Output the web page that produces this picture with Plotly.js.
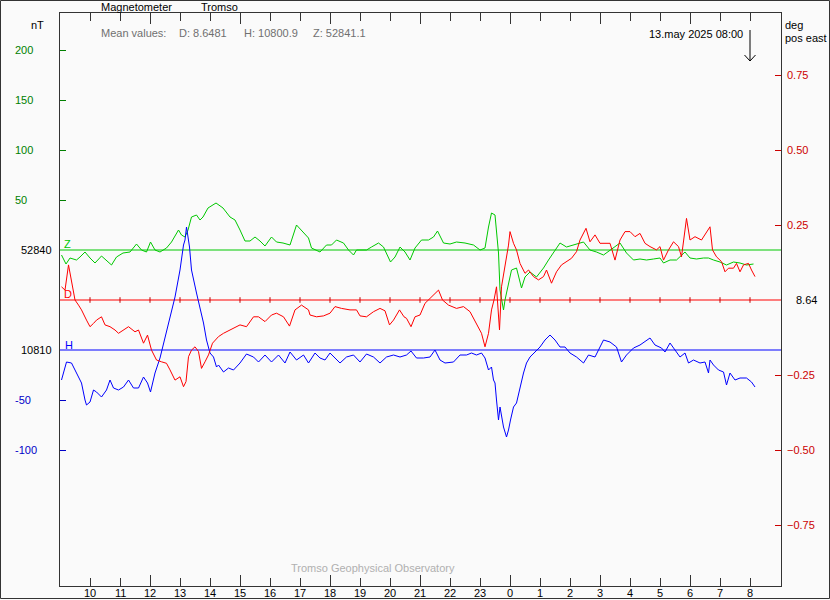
<!DOCTYPE html>
<html>
<head>
<meta charset="utf-8">
<script src="https://cdn.plot.ly/plotly-3.0.1.min.js"></script>
<style>html,body{margin:0;padding:0;background:#fafafa;}#chart{width:830px;height:600px;}</style>
</head>
<body>
<div id="chart"></div>
<script>
// time axis: minutes since 12 May 2025 09:00 UT
const hourLabels = ["10","11","12","13","14","15","16","17","18","19","20","21","22","23","0","1","2","3","4","5","6","7","8"];
const longTickLabels = ["12","15","18","21","0","3","6"];

// Z component (nT)
const zMinutes = [3,12,20,33,40,50,60,70,83,93,103,113,126,140,153,163,173,181,190,200,213,223,237,243,250,256,263,273,280,286,296,312,326,340,350,360,370,380,390,400,410,423,433,446,460,473,487,497,503,520,533,543,553,567,577,587,593,613,623,637,647,653,661,670,680,690,700,710,723,737,747,755,767,780,793,810,827,840,850,857,863,870,873,877,880,887,890,897,903,913,923,930,940,953,967,977,990,1000,1013,1027,1040,1047,1060,1073,1087,1100,1120,1133,1147,1160,1173,1187,1200,1207,1220,1233,1250,1260,1273,1287,1297,1307,1320,1333,1347,1360,1373,1387];
const zValues = [52835,52826,52832,52830,52833,52838,52832,52827,52834,52829,
52825,52833,52837,52838,52846,52840,52838,52848,52840,52838,
52842,52848,52860,52855,52853,52860,52873,52875,52870,52873,
52882,52887,52882,52873,52870,52860,52849,52849,52853,52849,
52844,52853,52848,52847,52845,52865,52858,52852,52842,52838,
52845,52845,52850,52847,52840,52835,52840,52840,52843,52847,
52843,52837,52828,52833,52843,52838,52830,52842,52850,52850,
52853,52859,52847,52846,52848,52847,52845,52840,52842,52863,
52877,52875,52857,52837,52800,52780,52790,52807,52820,52822,
52802,52813,52818,52813,52822,52830,52840,52847,52843,52845,
52847,52848,52840,52838,52835,52840,52847,52837,52830,52831,
52830,52831,52832,52827,52830,52830,52838,52832,52831,52832,
52832,52830,52828,52825,52828,52827,52825,52826];

// D component (degrees, positive east)
const dMinutes = [3,10,17,23,30,37,43,53,60,67,73,83,90,100,110,117,127,137,150,157,167,175,183,193,203,213,220,230,240,247,252,257,263,270,277,283,290,297,305,317,327,340,350,360,373,387,397,410,423,433,447,459,470,483,497,500,513,527,540,550,563,580,593,600,613,627,640,650,659,667,679,688,693,702,710,720,730,740,750,757,765,777,793,807,820,827,837,843,850,857,863,868,873,879,883,890,897,900,907,913,920,930,937,947,957,967,973,983,993,1003,1013,1023,1033,1040,1052,1060,1070,1080,1090,1100,1110,1120,1130,1140,1150,1160,1170,1180,1193,1200,1207,1217,1227,1237,1243,1250,1253,1260,1270,1283,1293,1300,1305,1313,1323,1330,1337,1347,1353,1360,1367,1377,1383,1390];
const dValues = [8.684,8.673,8.757,8.707,8.640,8.623,8.607,8.573,8.551,8.562,
8.573,8.584,8.557,8.551,8.540,8.529,8.540,8.551,8.534,8.540,
8.496,8.523,8.473,8.440,8.434,8.429,8.407,8.373,8.384,8.351,
8.368,8.451,8.473,8.484,8.468,8.412,8.434,8.457,8.496,8.518,
8.529,8.540,8.551,8.557,8.551,8.584,8.584,8.568,8.590,8.596,
8.584,8.553,8.607,8.623,8.607,8.590,8.584,8.587,8.596,8.618,
8.612,8.607,8.607,8.587,8.584,8.601,8.612,8.604,8.557,8.573,
8.607,8.584,8.579,8.551,8.584,8.590,8.629,8.646,8.662,8.673,
8.640,8.623,8.612,8.618,8.601,8.579,8.551,8.529,8.484,8.529,
8.607,8.640,8.684,8.540,8.684,8.751,8.823,8.868,8.829,8.807,
8.762,8.729,8.740,8.718,8.707,8.718,8.740,8.696,8.734,8.757,
8.768,8.779,8.801,8.840,8.879,8.834,8.857,8.829,8.829,8.829,
8.773,8.840,8.868,8.868,8.851,8.862,8.829,8.818,8.807,8.818,
8.773,8.807,8.834,8.818,8.784,8.884,8.912,8.840,8.851,8.840,
8.868,8.884,8.807,8.784,8.768,8.734,8.746,8.746,8.762,8.734,
8.757,8.762,8.740,8.718];

// H component (nT)
const hMinutes = [3,8,13,23,30,37,43,50,53,60,67,73,83,93,100,107,117,127,137,147,157,167,175,181,190,200,210,220,230,240,247,250,253,259,263,273,280,287,293,300,307,313,317,327,337,347,360,373,387,397,410,423,437,450,460,473,487,497,510,520,530,540,550,560,573,587,600,613,627,640,653,667,680,693,702,713,727,740,750,760,770,787,800,813,823,833,843,850,857,863,867,870,873,877,880,887,893,897,901,907,913,920,927,933,940,950,960,970,980,990,1000,1010,1020,1033,1047,1057,1070,1077,1087,1100,1113,1123,1133,1147,1160,1180,1190,1203,1210,1220,1230,1240,1250,1257,1267,1280,1290,1297,1300,1307,1317,1327,1333,1340,1350,1360,1373,1383,1390];
const hValues = [10780,10790,10798,10797,10790,10782,10777,10760,10755,10758,
10770,10768,10763,10770,10780,10772,10770,10773,10780,10772,
10772,10783,10777,10768,10787,10802,10823,10843,10863,10890,
10915,10920,10933,10913,10890,10867,10853,10837,10820,10807,
10803,10793,10795,10788,10792,10790,10797,10806,10803,10798,
10805,10798,10805,10797,10808,10800,10805,10797,10807,10802,
10800,10807,10802,10797,10803,10805,10798,10806,10803,10797,
10803,10805,10803,10805,10809,10802,10802,10803,10810,10800,
10797,10798,10805,10805,10807,10805,10807,10802,10790,10793,
10780,10777,10760,10740,10753,10733,10723,10730,10740,10753,
10757,10773,10787,10797,10803,10808,10813,10820,10825,10820,
10813,10813,10807,10803,10797,10805,10803,10810,10820,10818,
10813,10798,10805,10812,10815,10822,10815,10812,10808,10817,
10810,10803,10807,10797,10800,10797,10798,10787,10800,10795,
10790,10788,10775,10787,10780,10782,10782,10778,10773];

// baselines and tick labels
const zBase = 52840, hBase = 10810, dBase = 8.64;
const zTickOffsets = [50, 100, 150, 200];
const zTickLabels = ["50", "100", "150", "200"];
const hTickOffsets = [-50, -100];
const hTickLabels = ["-50", "-100"];
const dTickOffsets = [0.75, 0.50, 0.25, -0.25, -0.50, -0.75];
const dTickLabels = ["0.75", "0.50", "0.25", "\u22120.25", "\u22120.50", "\u22120.75"];
const meanTexts = ["Mean values:", "D: 8.6481", "H: 10800.9", "Z: 52841.1"];
const stampTime = 1380; // 13 May 2025 08:00

// ---- geometry helpers (pixel -> paper) ----
const L = 60, R = 781, T = 13, B = 586;
const px = x => (x - L) / (R - L);
const py = y => (B - y) / (B - T);
const FONT = "Liberation Sans, Arial, sans-serif";

const hourTicks = hourLabels.map((_, i) => (i + 1) * 60);
const longTicks = hourTicks.filter((_, i) => longTickLabels.includes(hourLabels[i]));

const GREEN = "#00c800", RED = "#ff0000", BLUE = "#0000ff";

const traces = [
  {x: zMinutes, y: zValues, type: "scatter", mode: "lines", line: {color: GREEN, width: 1}, xaxis: "x", yaxis: "y", hoverinfo: "skip"},
  {x: hMinutes, y: hValues, type: "scatter", mode: "lines", line: {color: BLUE, width: 1}, xaxis: "x", yaxis: "y2", hoverinfo: "skip"},
  {x: dMinutes, y: dValues, type: "scatter", mode: "lines", line: {color: RED, width: 1}, xaxis: "x", yaxis: "y3", hoverinfo: "skip"},
  {x: hourTicks, y: hourTicks.map(() => dBase), type: "scatter", mode: "markers",
   marker: {symbol: "line-ns", size: 4, line: {color: "#c00000", width: 1}}, xaxis: "x2", yaxis: "y3", hoverinfo: "skip"}
];

const ann = [];
function txt(text, x, y, color, opts) {
  ann.push(Object.assign({text: text, x: x, y: y, xref: "paper", yref: "paper", showarrow: false,
    xanchor: "left", yanchor: "middle", font: {family: FONT, size: 11, color: color}}, opts || {}));
}
// hour labels under the time axis
hourTicks.forEach((t, i) => txt(hourLabels[i], t, py(592.5), "#000", {xref: "x", xanchor: "center"}));
// left scale labels
zTickOffsets.forEach((o, i) => txt(zTickLabels[i], px(13), zBase + o, "#008000", {yref: "y"}));
hTickOffsets.forEach((o, i) => txt(hTickLabels[i], px(13), hBase + o, "#0000c8", {yref: "y2"}));
txt(String(zBase), px(19), zBase, "#000", {yref: "y"});
txt(String(hBase), px(19), hBase, "#000", {yref: "y2"});
// right scale labels
dTickOffsets.forEach((o, i) => txt(dTickLabels[i], px(785), dBase + o, "#cc0000", {yref: "y3"}));
txt(dBase.toFixed(2), px(794), dBase, "#000", {yref: "y3"});
// component letters
txt("Z", px(62), py(244), GREEN);
txt("D", px(62), py(294), RED);
txt("H", px(63), py(345), BLUE);
// header texts
txt("Magnetometer", px(99), py(7), "#000");
txt("Tromso", px(199), py(7), "#000");
txt("nT", px(29), py(25), "#000");
txt("deg", px(783), py(25), "#000");
txt("pos east", px(783), py(38), "#000");
const meanX = [99, 177, 242, 311];
meanTexts.forEach((t, i) => txt(t, px(meanX[i]), py(33), "#707070"));
txt("13.may 2025 08:00", px(647), py(34.5), "#000");
txt("Tromso Geophysical Observatory", px(289), py(568), "#b0b0b0");

const axisCommon = {showgrid: false, zeroline: false, fixedrange: true, automargin: false};

const layout = {
  width: 830, height: 600,
  margin: {l: L, r: 830 - R, t: T, b: 600 - B, pad: 0},
  paper_bgcolor: "#fafafa", plot_bgcolor: "#fafafa",
  showlegend: false,
  font: {family: FONT, size: 11, color: "#000"},
  xaxis: Object.assign({}, axisCommon, {
    range: [0, 1442], tickmode: "array", tickvals: hourTicks, showticklabels: false,
    ticks: "inside", ticklen: 8, tickwidth: 1, tickcolor: "#333",
    showline: true, linecolor: "#333", linewidth: 1, mirror: "ticks"
  }),
  xaxis2: Object.assign({}, axisCommon, {
    overlaying: "x", anchor: "y", side: "bottom", range: [0, 1442],
    tickmode: "array", tickvals: longTicks, ticks: "inside", ticklen: 11, tickwidth: 1, tickcolor: "#333",
    showticklabels: false, showline: false, mirror: "ticks"
  }),
  yaxis: Object.assign({}, axisCommon, {
    range: [zBase - (B - 250), zBase + (250 - T)], tickmode: "array", tickvals: zTickOffsets.map(o => zBase + o),
    ticks: "inside", ticklen: 6, tickwidth: 1, tickcolor: "#008000", showticklabels: false,
    showline: true, linecolor: "#333", linewidth: 1
  }),
  yaxis2: Object.assign({}, axisCommon, {
    overlaying: "y", side: "left", anchor: "x",
    range: [hBase - (B - 350), hBase + (350 - T)], tickmode: "array", tickvals: hTickOffsets.map(o => hBase + o),
    ticks: "inside", ticklen: 6, tickwidth: 1, tickcolor: "#0000c8", showticklabels: false, showline: false
  }),
  yaxis3: Object.assign({}, axisCommon, {
    overlaying: "y", side: "right", anchor: "x",
    range: [dBase - (B - 300) / 300, dBase + (300 - T) / 300], tickmode: "array", tickvals: dTickOffsets.map(o => dBase + o),
    ticks: "inside", ticklen: 6, tickwidth: 1, tickcolor: "#cc0000", showticklabels: false,
    showline: true, linecolor: "#333", linewidth: 1
  }),
  shapes: [
    {type: "line", xref: "paper", x0: 0, x1: 1, yref: "y", y0: zBase, y1: zBase, line: {color: GREEN, width: 1}, layer: "below"},
    {type: "line", xref: "paper", x0: 0, x1: 1, yref: "y3", y0: dBase, y1: dBase, line: {color: RED, width: 1}, layer: "below"},
    {type: "line", xref: "paper", x0: 0, x1: 1, yref: "y2", y0: hBase, y1: hBase, line: {color: BLUE, width: 1}, layer: "below"},
    {type: "path", xref: "x", yref: "paper",
     path: `M${stampTime},${py(30)} L${stampTime},${py(61)} M${stampTime - 11},${py(55)} L${stampTime},${py(61)} L${stampTime + 11},${py(55)}`,
     line: {color: "#000", width: 1}},
    {type: "rect", xref: "paper", yref: "paper", x0: px(0.5), x1: px(829.5), y0: py(598.5), y1: py(0.5),
     line: {color: "#333", width: 1}}
  ],
  annotations: ann
};

Plotly.newPlot("chart", traces, layout, {staticPlot: true, displayModeBar: false});
</script>
</body>
</html>
